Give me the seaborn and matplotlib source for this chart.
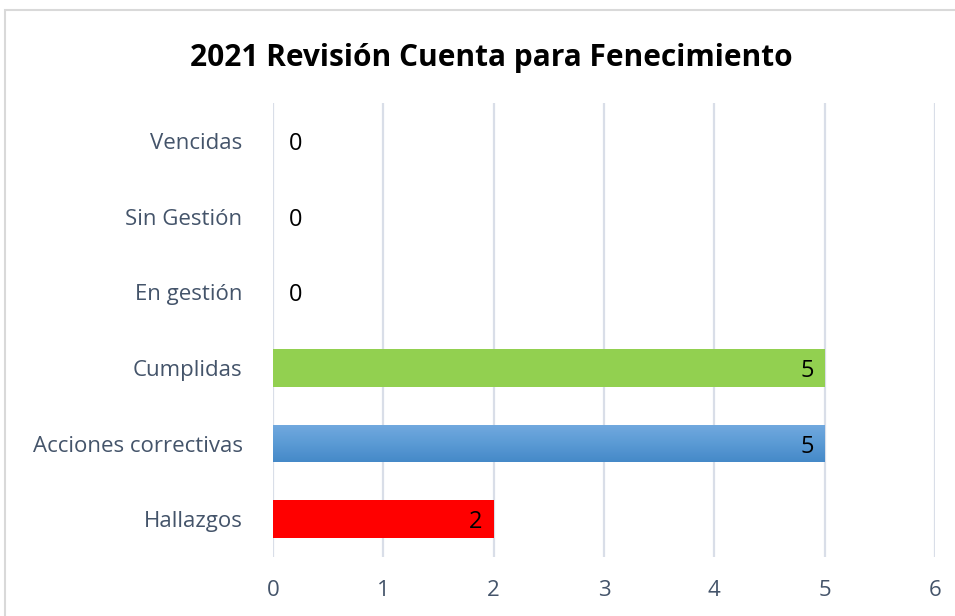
import matplotlib
matplotlib.use("Agg")
import matplotlib.pyplot as plt
import seaborn as sns
import pandas as pd
import numpy as np
from matplotlib.patches import Rectangle
from matplotlib.colors import LinearSegmentedColormap

# data, top to bottom as in the chart
categories = ["Vencidas", "Sin Gestión", "En gestión", "Cumplidas", "Acciones correctivas", "Hallazgos"]
values = [0, 0, 0, 5, 5, 2]
bar_colors = ["#FFFFFF", "#FFFFFF", "#FFFFFF", "#92D050", "#5B9BD5", "#FF0000"]
x_ticks = [0, 1, 2, 3, 4, 5, 6]
title = "2021 Revisión Cuenta para Fenecimiento"

sns.set_style("white")
plt.rcParams["font.family"] = ["Open Sans", "DejaVu Sans"]

df = pd.DataFrame({"categoria": categories, "valor": values})

fig = plt.figure(figsize=(9.55, 6.16), dpi=100)
ax = fig.add_axes([0.286, 0.096, 0.693, 0.736])

sns.barplot(data=df, x="valor", y="categoria", hue="categoria",
            palette=bar_colors, orient="h", width=0.5, legend=False, ax=ax,
            saturation=1, linewidth=0)

ax.set_xlim(0, 6)
ax.set_ylim(5.5, -0.5)
ax.set_xticks(x_ticks)
ax.xaxis.grid(True, color="#D9DEE8", linewidth=1.6)
ax.set_axisbelow(True)
ax.set_xlabel("")
ax.set_ylabel("")
for s in ax.spines.values():
    s.set_visible(False)
ax.tick_params(axis="both", length=0, labelcolor="#44546A", labelsize=16)
ax.tick_params(axis="y", pad=22)
ax.tick_params(axis="x", pad=17)
for lbl in ax.get_yticklabels():
    lbl.set_va("center_baseline")

# gradient fill for the blue bar (Excel style)
blue_cmap = LinearSegmentedColormap.from_list("blue_grad", ["#72A9DF", "#5B9BD5", "#4589C8"])
for bar, cat in zip(ax.patches, categories):
    if cat == "Acciones correctivas":
        x0, y0 = bar.get_x(), bar.get_y()
        w, h = bar.get_width(), bar.get_height()
        grad = np.linspace(0, 1, 100).reshape(-1, 1)
        img = ax.imshow(grad, cmap=blue_cmap, aspect="auto",
                        extent=(x0, x0 + w, y0 + h, y0), origin="upper", zorder=bar.get_zorder())
        img.set_clip_path(bar)
ax.set_xlim(0, 6)
ax.set_ylim(5.5, -0.5)

# value labels
for i, v in enumerate(values):
    if v > 0:
        ax.text(v - 0.1, i, str(v), ha="right", va="center_baseline", fontsize=17, color="black", zorder=5)
    else:
        ax.text(0.14, i, str(v), ha="left", va="center_baseline", fontsize=17, color="black", zorder=5)

fig.text(0.5147, 0.912, title, ha="center", va="center_baseline", fontsize=21.5,
         fontweight="bold", color="black")

# chart frame
fig.patches.append(Rectangle((5 / 955, -0.01), 1.0, 1 - 10 / 616 + 0.01,
                             transform=fig.transFigure, fill=False,
                             edgecolor="#D9D9D9", linewidth=1.5))

fig.savefig("out.png", dpi=100, facecolor="white")
